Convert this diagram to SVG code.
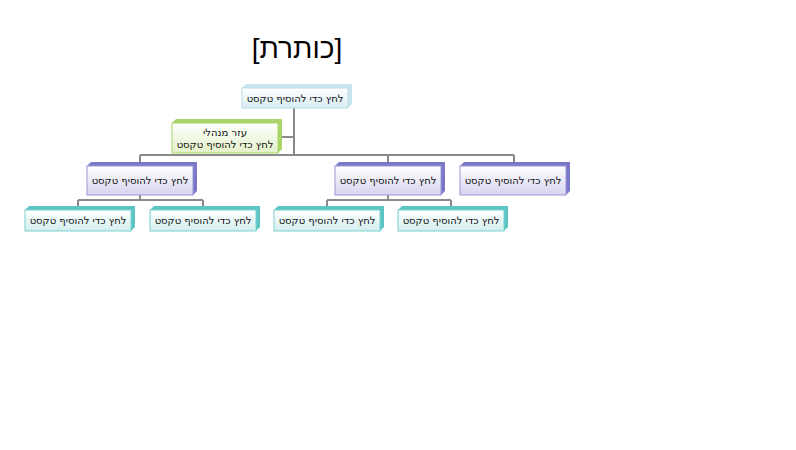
<svg xmlns="http://www.w3.org/2000/svg" width="796" height="450" viewBox="0 0 796 450">
<defs>
<linearGradient id="gt" x1="0" y1="0" x2="0" y2="1"><stop offset="0" stop-color="#ffffff"/><stop offset="1" stop-color="#d8ecf2"/></linearGradient>
<linearGradient id="gg" x1="0" y1="0" x2="0" y2="1"><stop offset="0" stop-color="#ffffff"/><stop offset="1" stop-color="#e2f0c8"/></linearGradient>
<linearGradient id="gp" x1="0" y1="0" x2="0" y2="1"><stop offset="0" stop-color="#ffffff"/><stop offset="1" stop-color="#d6d4f0"/></linearGradient>
<linearGradient id="gc" x1="0" y1="0" x2="0" y2="1"><stop offset="0" stop-color="#ffffff"/><stop offset="1" stop-color="#d2eeee"/></linearGradient>
</defs>
<style>
.c{stroke:#8a8a8a;stroke-width:2;fill:none}
.t{font-family:"DejaVu Sans","Noto Sans",sans-serif;font-size:10px;fill:#111;text-anchor:middle}
</style>
<rect width="796" height="450" fill="#fff"/>
<text x="297" y="58" style="font-family:'Liberation Sans',sans-serif;font-size:28px;text-anchor:middle" fill="#000">[כותרת]</text>
<g id="connectors">
<path class="c" d="M294 108V155M278 137H294M140 155H514M140 155V162M388 155V162M514 155V162"/>
<path class="c" d="M140 195V200M78 200H203M78 200V206M203 200V206"/>
<path class="c" d="M388 195V200M327 200H451M327 200V206M451 200V206"/>
</g>
<g id="n0"><polygon points="242,88 246,84 352,84 352,104 348,108" fill="#c8e4ee"/><rect x="242" y="88" width="106" height="20" fill="url(#gt)" stroke="#b8dbe6"/><text class="t" x="295" y="102">לחץ כדי להוסיף טקסט</text></g>
<g id="n1"><polygon points="172,123 176,119 282,119 282,149 278,153" fill="#a8d468"/><rect x="172" y="123" width="106" height="30" fill="url(#gg)" stroke="#a8d468"/><text class="t" x="225" y="136">עזר מנהלי</text><text class="t" x="225" y="148">לחץ כדי להוסיף טקסט</text></g>
<g id="n2"><polygon points="87,166 91,162 197,162 197,191 193,195" fill="#7c78c8"/><rect x="87" y="166" width="106" height="29" fill="url(#gp)" stroke="#9a96d6"/><text class="t" x="140" y="184">לחץ כדי להוסיף טקסט</text></g>
<g id="n3"><polygon points="335,166 339,162 445,162 445,191 441,195" fill="#7c78c8"/><rect x="335" y="166" width="106" height="29" fill="url(#gp)" stroke="#9a96d6"/><text class="t" x="388" y="184">לחץ כדי להוסיף טקסט</text></g>
<g id="n4"><polygon points="460,166 464,162 570,162 570,191 566,195" fill="#7c78c8"/><rect x="460" y="166" width="106" height="29" fill="url(#gp)" stroke="#9a96d6"/><text class="t" x="513" y="184">לחץ כדי להוסיף טקסט</text></g>
<g id="n5"><polygon points="25,210 29,206 135,206 135,227 131,231" fill="#5cc4c4"/><rect x="25" y="210" width="106" height="21" fill="url(#gc)" stroke="#7cd0d0"/><text class="t" x="78" y="224">לחץ כדי להוסיף טקסט</text></g>
<g id="n6"><polygon points="150,210 154,206 260,206 260,227 256,231" fill="#5cc4c4"/><rect x="150" y="210" width="106" height="21" fill="url(#gc)" stroke="#7cd0d0"/><text class="t" x="203" y="224">לחץ כדי להוסיף טקסט</text></g>
<g id="n7"><polygon points="274,210 278,206 384,206 384,227 380,231" fill="#5cc4c4"/><rect x="274" y="210" width="106" height="21" fill="url(#gc)" stroke="#7cd0d0"/><text class="t" x="327" y="224">לחץ כדי להוסיף טקסט</text></g>
<g id="n8"><polygon points="398,210 402,206 508,206 508,227 504,231" fill="#5cc4c4"/><rect x="398" y="210" width="106" height="21" fill="url(#gc)" stroke="#7cd0d0"/><text class="t" x="451" y="224">לחץ כדי להוסיף טקסט</text></g>
</svg>
